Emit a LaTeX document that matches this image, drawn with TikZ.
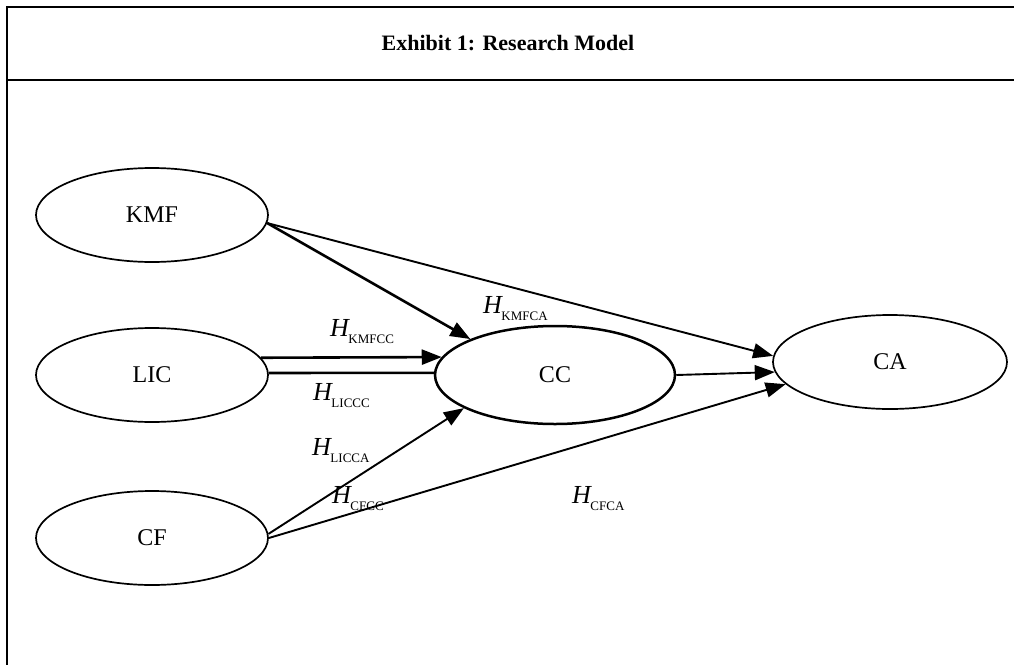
\documentclass[tikz,border=0pt]{standalone}
\usepackage{fontspec}
\setmainfont{Liberation Serif}
\usetikzlibrary{shapes.geometric,arrows.meta}
\newcommand{\hlab}[1]{{\fontsize{26}{28}\selectfont\itshape H}\kern-0.5pt\raisebox{-7pt}{\fontsize{13}{14}\selectfont #1}}
\tikzset{
  construct/.style={ellipse,draw,line width=1.7pt,minimum width=232pt,minimum height=94pt,inner sep=0pt,font=\fontsize{24}{26}\selectfont},
  link/.style={line width=1.9pt},
  arr/.style={link,-{Triangle[length=20pt,width=15pt]}},
  hyp/.style={anchor=base west,inner sep=0pt}
}
\begin{document}
\begin{tikzpicture}[x=1pt,y=-1pt]
\useasboundingbox (0,0) rectangle (1014,664);
% frame
\coordinate (tl) at (7,7);
\coordinate (tr) at (1016,7);
\coordinate (ml) at (7,80);
\coordinate (mr) at (1016,80);
\coordinate (bl) at (7,666);
\draw[line width=1.5pt] (tr) -- (tl) -- (bl);
\draw[line width=1.5pt] (ml) -- (mr);
\node[font=\fontsize{22}{26}\selectfont\bfseries] (title) at (508,43) {Exhibit 1: Research Model};
% constructs
\node[construct] (kmf) at (152,215) {KMF};
\node[construct] (lic) at (152,375) {LIC};
\node[construct] (cf) at (152,538) {CF};
\node[construct,line width=2.5pt,minimum width=240pt,minimum height=98pt] (cc) at (555,375) {CC};
\node[construct,minimum width=234pt,minimum height=94pt] (ca) at (890,362) {CA};
% connectors
\draw[arr,line width=2.6pt] (kmf.-4) -- (cc.157);
\draw[arr] (kmf.-4) -- (ca.177);
\draw[arr,line width=2.6pt] (lic.9) -- (cc.171);
\draw[link,line width=2.6pt] (lic.1) -- (cc.179);
\draw[arr] (cc.0) -- (ca.185);
\draw[arr] (cf.2) -- (cc.200);
\draw[arr] (cf.0) -- (ca.192);
% hypothesis labels
\node[hyp] (h1) at (330,336) {\hlab{KMFCC}};
\node[hyp] (h2) at (483,313) {\hlab{KMFCA}};
\node[hyp] (h3) at (313,400) {\hlab{LICCC}};
\node[hyp] (h4) at (312,455) {\hlab{LICCA}};
\node[hyp] (h5) at (332,503) {\hlab{CFCC}};
\node[hyp] (h6) at (572,503) {\hlab{CFCA}};
\end{tikzpicture}
\end{document}
